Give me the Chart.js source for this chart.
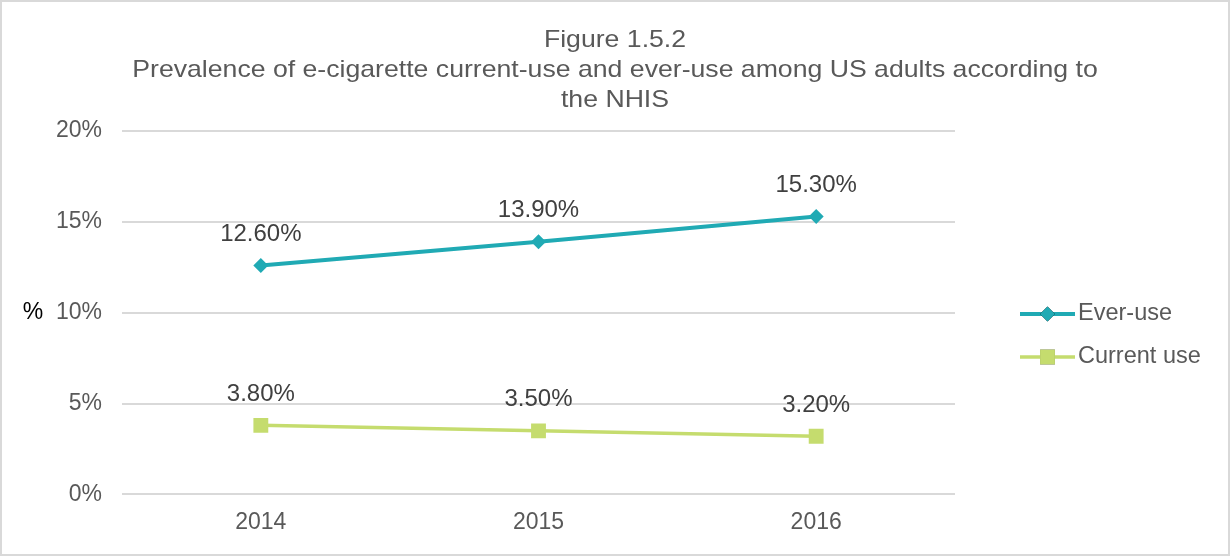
<!DOCTYPE html>
<html>
<head>
<meta charset="utf-8">
<script src="https://cdn.jsdelivr.net/npm/chart.js@4/dist/chart.umd.min.js"></script>
<style>
  html, body { margin: 0; padding: 0; background: #fff; }
  canvas { display: block; }
</style>
</head>
<body>
<canvas id="nhisChart" width="1230" height="556"></canvas>
<script>
const years = ['2014', '2015', '2016'];
const everUse = [12.6, 13.9, 15.3];
const currentUse = [3.8, 3.5, 3.2];
const yTicks = [0, 5, 10, 15, 20];

const titleLines = [
  'Figure 1.5.2',
  'Prevalence of e-cigarette current-use and ever-use among US adults according to',
  'the NHIS'
];

const FONT = "'Liberation Sans', Arial, sans-serif";
const TEAL = '#20aab4';
const LIME = '#c5dc6e';

// white background plus the thin grey frame round the canvas
const framePlugin = {
  id: 'frame',
  beforeDraw(chart) {
    const ctx = chart.ctx;
    ctx.save();
    ctx.fillStyle = '#fff';
    ctx.fillRect(0, 0, chart.width, chart.height);
    ctx.strokeStyle = '#d9d9d9';
    ctx.lineWidth = 2;
    ctx.strokeRect(1, 1, chart.width - 2, chart.height - 2);
    ctx.restore();
  }
};

// three-line title centred on the whole canvas, set a little wide
const headTitle = {
  id: 'headTitle',
  afterDraw(chart) {
    const ctx = chart.ctx;
    const cx = chart.width / 2;
    ctx.save();
    ctx.font = '24px ' + FONT;
    ctx.fillStyle = '#595959';
    ctx.textAlign = 'center';
    ctx.textBaseline = 'alphabetic';
    titleLines.forEach((line, i) => {
      ctx.save();
      ctx.translate(cx, 47 + i * 30);
      ctx.scale(1.11, 1);
      ctx.fillText(line, 0, 0);
      ctx.restore();
    });
    ctx.restore();
  }
};

// value labels above every point
const valueLabels = {
  id: 'valueLabels',
  afterDatasetsDraw(chart) {
    const ctx = chart.ctx;
    ctx.save();
    ctx.font = '24px ' + FONT;
    ctx.fillStyle = '#404040';
    ctx.textAlign = 'center';
    ctx.textBaseline = 'middle';
    chart.data.datasets.forEach((ds, i) => {
      chart.getDatasetMeta(i).data.forEach((pt, j) => {
        ctx.fillText(ds.data[j].toFixed(2) + '%', pt.x, pt.y - 31);
      });
    });
    ctx.restore();
  }
};

// line + marker legend on the right, and the unrotated "%" axis title
const sideLegend = {
  id: 'sideLegend',
  afterDraw(chart) {
    const ctx = chart.ctx;
    const area = chart.chartArea;
    ctx.save();
    ctx.font = '23px ' + FONT;
    ctx.fillStyle = '#000';
    ctx.textAlign = 'center';
    ctx.textBaseline = 'middle';
    ctx.fillText('%', 33, (area.top + area.bottom) / 2);

    ctx.font = '23.5px ' + FONT;
    const x0 = 1020, x1 = 1075, yStart = 314, gap = 43;
    chart.data.datasets.forEach((ds, i) => {
      const y = yStart + i * gap;
      ctx.strokeStyle = ds.borderColor;
      ctx.lineWidth = ds.borderWidth;
      ctx.beginPath();
      ctx.moveTo(x0, y);
      ctx.lineTo(x1, y);
      ctx.stroke();
      Chart.helpers.drawPoint(ctx, {
        pointStyle: ds.pointStyle,
        radius: ds.pointRadius,
        borderWidth: 0
      }, (x0 + x1) / 2, y);
      ctx.fillStyle = ds.backgroundColor;
      ctx.fill();
      ctx.fillStyle = '#595959';
      ctx.textAlign = 'left';
      ctx.fillText(ds.label, x1 + 3, y);
    });
    ctx.restore();
  }
};

new Chart(document.getElementById('nhisChart'), {
  type: 'line',
  data: {
    labels: years,
    datasets: [
      {
        label: 'Ever-use',
        data: everUse,
        borderColor: TEAL,
        backgroundColor: TEAL,
        borderWidth: 4,
        pointStyle: 'rectRot',
        pointRadius: 7.5,
        pointBorderWidth: 0
      },
      {
        label: 'Current use',
        data: currentUse,
        borderColor: LIME,
        backgroundColor: LIME,
        borderWidth: 3.5,
        pointStyle: 'rect',
        pointRadius: 10.5,
        pointBorderWidth: 0
      }
    ]
  },
  options: {
    responsive: false,
    animation: false,
    devicePixelRatio: 1,
    layout: {
      padding: { left: 0, right: 275, top: 131, bottom: 14 }
    },
    plugins: {
      legend: { display: false },
      tooltip: { enabled: false },
      title: { display: false }
    },
    scales: {
      x: {
        offset: true,
        grid: { display: false },
        border: { display: false },
        ticks: {
          color: '#595959',
          font: { family: FONT, size: 23 },
          padding: 6
        }
      },
      y: {
        min: 0,
        max: 20,
        afterFit(scale) { scale.width = 122; },
        afterBuildTicks(scale) { scale.ticks = yTicks.map(v => ({ value: v })); },
        grid: { color: '#d9d9d9', lineWidth: 2, drawTicks: false },
        border: { display: false },
        ticks: {
          color: '#595959',
          font: { family: FONT, size: 23 },
          padding: 20,
          callback: v => v + '%'
        }
      }
    }
  },
  plugins: [framePlugin, headTitle, valueLabels, sideLegend]
});
</script>
</body>
</html>
